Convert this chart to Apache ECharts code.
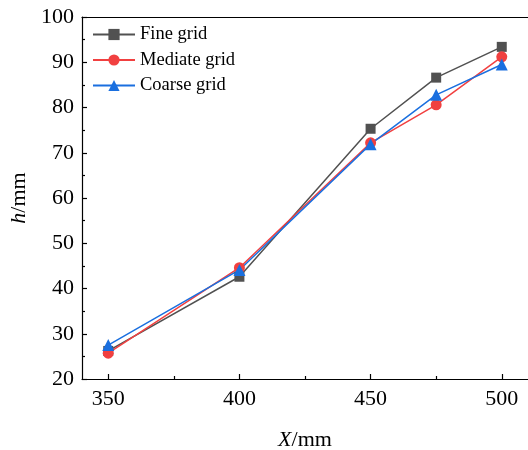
<!DOCTYPE html>
<html>
<head>
<meta charset="utf-8">
<script src="https://cdn.jsdelivr.net/npm/echarts@6/dist/echarts.min.js"></script>
<style>html,body{margin:0;padding:0;background:#fff}#c{width:528px;height:450px}</style>
</head>
<body>
<div id="c"></div>
<script>
const xValues = [350, 400, 450, 475, 500];
const fineGrid = [26.2, 42.6, 75.3, 86.6, 93.4];
const mediateGrid = [25.7, 44.6, 72.2, 80.6, 91.2];
const coarseGrid = [27.5, 44.1, 71.9, 82.8, 89.5];
const xTickLabels = [350, 400, 450, 500];
const xMinorTicks = [375, 425, 475];
const seriesNames = ['Fine grid', 'Mediate grid', 'Coarse grid'];

const font = 'Liberation Serif, Times New Roman, serif';
const colors = ['#515151', '#F14040', '#1A6FDF'];
const symbols = ['rect', 'circle', 'triangle'];
const sizes = [10, 11, 12];
const dataSets = [fineGrid, mediateGrid, coarseGrid];

const chart = echarts.init(document.getElementById('c'));
const axisLine = { show: true, lineStyle: { color: '#000', width: 1.2 } };
chart.setOption({
  animation: false,
  color: colors,
  grid: { left: 82, top: 17, right: 0, bottom: 71, containLabel: false, outerBoundsMode: 'none' },
  legend: {
    orient: 'vertical', left: 87, top: 20,
    itemWidth: 42, itemHeight: 14, itemGap: 6.5,
    textStyle: { fontFamily: font, fontSize: 18.5, color: '#000', lineHeight: 16 },
    data: seriesNames
  },
  xAxis: [
    {
      type: 'value', min: 340, max: 510, position: 'bottom',
      name: '{i|X}/mm', nameLocation: 'middle', nameGap: 50,
      nameTextStyle: { fontFamily: font, fontSize: 22, color: '#000',
        rich: { i: { fontFamily: font, fontSize: 22, fontStyle: 'italic', color: '#000' } } },
      axisLine: axisLine,
      axisTick: { show: true, inside: true, length: 5, customValues: xTickLabels, lineStyle: { color: '#000', width: 1.2 } },
      axisLabel: { customValues: xTickLabels, fontFamily: font, fontSize: 22, color: '#000', margin: 9 },
      splitLine: { show: false }
    },
    {
      type: 'value', min: 340, max: 510, position: 'bottom',
      axisLine: { show: false },
      axisTick: { show: true, inside: true, length: 3, customValues: xMinorTicks, lineStyle: { color: '#000', width: 1.2 } },
      axisLabel: { show: false },
      splitLine: { show: false }
    },
    {
      type: 'value', min: 340, max: 510, position: 'top',
      axisLine: axisLine, axisTick: { show: false }, axisLabel: { show: false }, splitLine: { show: false }
    }
  ],
  yAxis: {
    type: 'value', min: 20, max: 100, interval: 10,
    name: '{i|h}/mm', nameLocation: 'middle', nameGap: 49, nameRotate: 90,
    nameTextStyle: { fontFamily: font, fontSize: 22, color: '#000',
      rich: { i: { fontFamily: font, fontSize: 22, fontStyle: 'italic', color: '#000' } } },
    axisLine: axisLine,
    axisTick: { show: true, inside: true, length: 5, lineStyle: { color: '#000', width: 1.2 } },
    minorTick: { show: true, splitNumber: 2, length: 3, lineStyle: { color: '#000', width: 1.2 } },
    axisLabel: { fontFamily: font, fontSize: 22, color: '#000', margin: 8 },
    splitLine: { show: false }
  },
  series: seriesNames.map((n, i) => ({
    name: n, type: 'line', xAxisIndex: 0,
    data: xValues.map((x, j) => [x, dataSets[i][j]]),
    symbol: symbols[i], symbolSize: sizes[i],
    lineStyle: { width: 1.5, color: colors[i] },
    itemStyle: { color: colors[i] }
  }))
});
</script>
</body>
</html>
